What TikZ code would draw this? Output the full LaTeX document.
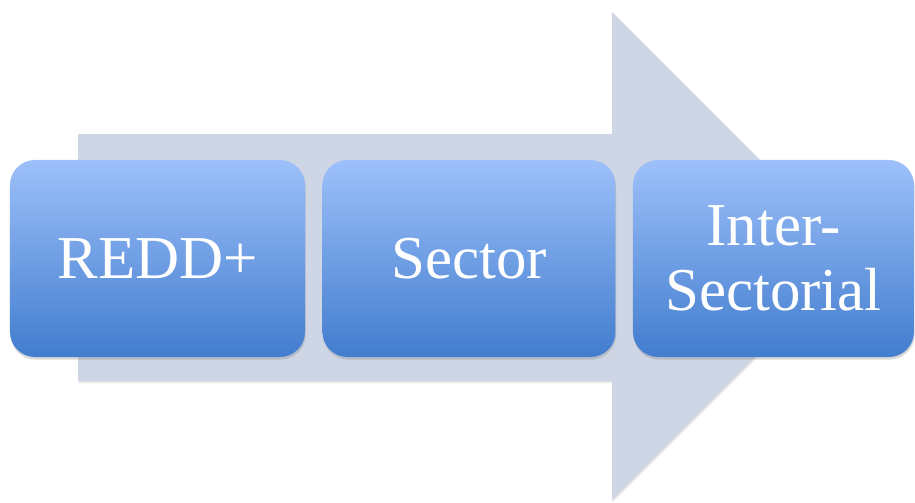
\documentclass[tikz,border=0pt]{standalone}
\usepackage{fontspec}
\setmainfont{Liberation Serif}
\usetikzlibrary{positioning,shadows}
\definecolor{arrowgray}{HTML}{CED6E6}
\definecolor{boxtop}{HTML}{9DC0FA}
\definecolor{boxbottom}{HTML}{427DCE}
\begin{document}
\begin{tikzpicture}[
    x=0.03cm, y=-0.03cm,
    node distance=0.51cm,
    stage/.style={
        rectangle,
        rounded corners=0.75cm,
        top color=boxtop,
        bottom color=boxbottom,
        draw=none,
        minimum height=5.91cm,
        align=center,
        text=white,
        font=\fontsize{52}{55.5}\selectfont,
        drop shadow={shadow xshift=0.02cm, shadow yshift=-0.08cm, opacity=0.3, fill=black!50}
    },
    bigarrow/.style={
        fill=arrowgray,
        drop shadow={shadow xshift=0.02cm, shadow yshift=-0.06cm, opacity=0.2, fill=black!50}
    }
]
\useasboundingbox (0,0) rectangle (915,503);

% Freccia di sfondo
\fill[bigarrow] (78,134) -- (612,134) -- (612,12) -- (856,256)
    -- (612,500) -- (612,381) -- (78,381) -- cycle;

% Blocchi
\node[stage, minimum width=8.85cm] (redd) at (157.5,258.5) {REDD+};
\node[stage, minimum width=8.79cm, right=of redd] (sector) {Sector};
\node[stage, minimum width=8.43cm, right=of sector] (inter) {Inter-\\Sectorial};

\end{tikzpicture}
\end{document}
